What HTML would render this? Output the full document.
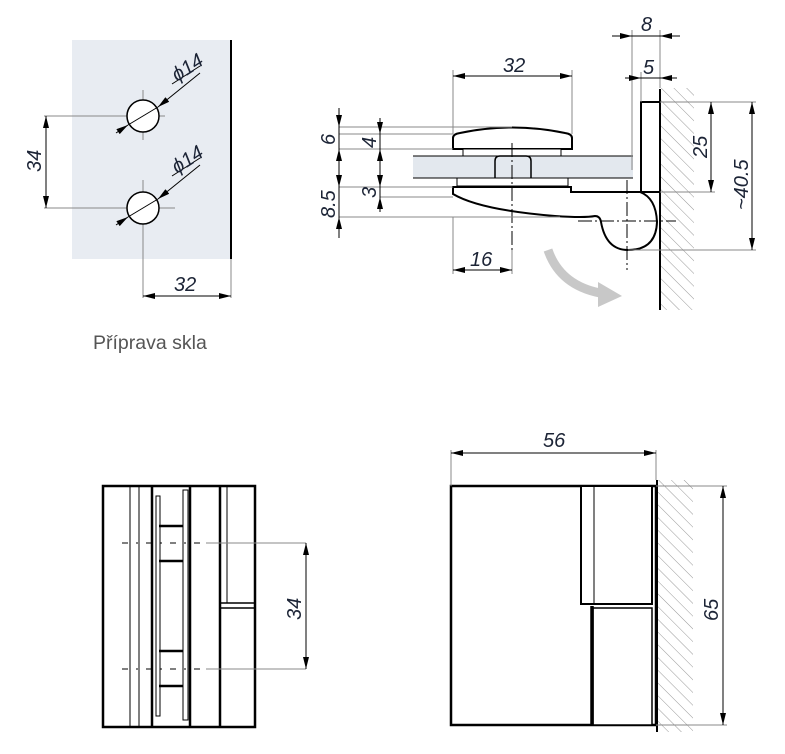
<!DOCTYPE html>
<html><head><meta charset="utf-8"><style>
html,body{margin:0;padding:0;background:#fff}
svg{display:block}
.t{font-family:"Liberation Sans",sans-serif;font-style:italic;font-size:20px;fill:#1c2436}
</style></head><body>
<svg width="785" height="754" viewBox="0 0 785 754" xmlns="http://www.w3.org/2000/svg">
<defs>
<marker id="a" viewBox="0 0 12 6" refX="12" refY="3" markerWidth="12" markerHeight="6" orient="auto-start-reverse" markerUnits="userSpaceOnUse"><path d="M0,0 L12,3 L0,6 z" fill="#000"/></marker>
<pattern id="h" width="9" height="9" patternUnits="userSpaceOnUse" patternTransform="rotate(-45)"><line x1="0" y1="0" x2="0" y2="9" stroke="#999" stroke-width="1"/></pattern>
</defs>

<!-- Glass preparation -->
<rect x="72" y="40" width="159" height="219" fill="#e8ecf2"/>
<line x1="231" y1="40" x2="231" y2="259" stroke="#000" stroke-width="2"/>
<g stroke="#888" stroke-width="1" fill="none">
<line x1="44" y1="116" x2="165" y2="116"/><line x1="44" y1="208" x2="175" y2="208"/>
<line x1="143" y1="90" x2="143" y2="140"/><line x1="143" y1="180" x2="143" y2="298"/>
<line x1="231" y1="259" x2="231" y2="298"/>
</g>
<circle cx="143" cy="116" r="16" fill="#fff" stroke="#000" stroke-width="1.5"/>
<circle cx="143" cy="208" r="16" fill="#fff" stroke="#000" stroke-width="1.5"/>
<g stroke="#000" stroke-width="1" fill="none">
<line x1="116" y1="133" x2="128" y2="125" marker-end="url(#a)"/><line x1="128" y1="125" x2="158" y2="107"/>
<line x1="200" y1="73" x2="158" y2="107" marker-end="url(#a)"/><line x1="172" y1="84" x2="200" y2="66"/>
<line x1="116" y1="225" x2="128" y2="217" marker-end="url(#a)"/><line x1="128" y1="217" x2="158" y2="199"/>
<line x1="200" y1="165" x2="158" y2="199" marker-end="url(#a)"/><line x1="172" y1="176" x2="200" y2="158"/>
<line x1="46" y1="116" x2="46" y2="208" marker-start="url(#a)" marker-end="url(#a)"/>
<line x1="143" y1="296" x2="231" y2="296" marker-start="url(#a)" marker-end="url(#a)"/>
</g>
<text class="t" transform="translate(177,82) rotate(-33)">ϕ14</text>
<text class="t" transform="translate(177,174) rotate(-33)">ϕ14</text>
<text class="t" transform="translate(41,172) rotate(-90)">34</text>
<text class="t" x="174" y="291">32</text>
<text x="93" y="349" font-family="Liberation Sans,sans-serif" font-size="19.5" fill="#555">Příprava skla</text>

<!-- Side view top-right -->
<rect x="660" y="88" width="34" height="222" fill="url(#h)"/>
<line x1="660" y1="89" x2="660" y2="310" stroke="#000" stroke-width="2"/>
<rect x="413" y="156" width="220" height="22" fill="#e3e8ee"/>
<g stroke="#000" stroke-width="1" fill="none"><line x1="413" y1="156" x2="633" y2="156"/><line x1="413" y1="178" x2="633" y2="178"/></g>
<rect x="641" y="102" width="19" height="90" fill="#fff" stroke="#000" stroke-width="2"/>
<path d="M453,149 L453,138 Q453,134 460,133 Q512,122 565,133 Q572,134 572,138 L572,149 Z" fill="#fff" stroke="#000" stroke-width="2"/>
<rect x="463" y="149" width="98" height="7" fill="#fff" stroke="#000" stroke-width="1"/>
<path d="M495,178 L495,161 Q495,156 500,156 L526,156 Q531,156 531,161 L531,178" fill="#e3e8ee" stroke="#000" stroke-width="1.5"/>
<rect x="457" y="178" width="111" height="8" fill="#fff" stroke="#000" stroke-width="1"/>
<path d="M453,187 L453,194 Q480,210 555,216 Q585,218 595,216 Q600,216 601,222 Q606,250 628,250 Q656,250 657,222 Q656,198 640,192 L571,192 L571,187 Z" fill="#fff" stroke="#000" stroke-width="2"/>
<g stroke="#000" stroke-width="1" stroke-dasharray="14,3,2,3" fill="none">
<line x1="512" y1="143" x2="512" y2="270"/><line x1="627" y1="180" x2="627" y2="270"/><line x1="578" y1="221" x2="676" y2="221"/>
</g>
<g stroke="#888" stroke-width="1" fill="none">
<line x1="453" y1="70" x2="453" y2="134"/><line x1="572" y1="70" x2="572" y2="134"/>
<line x1="632" y1="30" x2="632" y2="170"/><line x1="660" y1="30" x2="660" y2="88"/><line x1="641" y1="72" x2="641" y2="102"/>
<line x1="339" y1="127" x2="512" y2="127"/><line x1="339" y1="134" x2="453" y2="134"/><line x1="339" y1="149" x2="453" y2="149"/>
<line x1="339" y1="187" x2="453" y2="187"/><line x1="380" y1="197" x2="453" y2="197"/><line x1="339" y1="217" x2="560" y2="217"/>
<line x1="660" y1="102" x2="756" y2="102"/><line x1="660" y1="192" x2="715" y2="192"/><line x1="628" y1="250" x2="756" y2="250"/>
<line x1="453" y1="217" x2="453" y2="274"/><line x1="512" y1="250" x2="512" y2="274"/>
</g>
<g stroke="#000" stroke-width="1" fill="none">
<line x1="453" y1="76" x2="572" y2="76" marker-start="url(#a)" marker-end="url(#a)"/>
<line x1="612" y1="36" x2="632" y2="36" marker-end="url(#a)"/><line x1="680" y1="36" x2="660" y2="36" marker-end="url(#a)"/><line x1="632" y1="36" x2="660" y2="36"/>
<line x1="625" y1="78" x2="641" y2="78" marker-end="url(#a)"/><line x1="677" y1="78" x2="660" y2="78" marker-end="url(#a)"/><line x1="641" y1="78" x2="660" y2="78"/>
<line x1="339" y1="108" x2="339" y2="127" marker-end="url(#a)"/><line x1="339" y1="127" x2="339" y2="149"/>
<line x1="339" y1="168" x2="339" y2="149" marker-end="url(#a)"/><line x1="339" y1="168" x2="339" y2="187" marker-end="url(#a)"/>
<line x1="339" y1="187" x2="339" y2="217"/><line x1="339" y1="238" x2="339" y2="217" marker-end="url(#a)"/>
<line x1="380" y1="118" x2="380" y2="134" marker-end="url(#a)"/><line x1="380" y1="134" x2="380" y2="149"/>
<line x1="380" y1="168" x2="380" y2="149" marker-end="url(#a)"/><line x1="380" y1="168" x2="380" y2="187" marker-end="url(#a)"/>
<line x1="380" y1="187" x2="380" y2="197"/><line x1="380" y1="212" x2="380" y2="197" marker-end="url(#a)"/>
<line x1="711" y1="102" x2="711" y2="192" marker-start="url(#a)" marker-end="url(#a)"/>
<line x1="752" y1="102" x2="752" y2="250" marker-start="url(#a)" marker-end="url(#a)"/>
<line x1="453" y1="270" x2="512" y2="270" marker-start="url(#a)" marker-end="url(#a)"/>
</g>
<path d="M548,250 Q560,285 600,293" stroke="#c8c8c8" stroke-width="9" fill="none"/>
<path d="M598,282 L622,296 L598,307 z" fill="#c8c8c8"/>
<text class="t" x="503" y="72">32</text>
<text class="t" x="641" y="31">8</text>
<text class="t" x="643" y="74">5</text>
<text class="t" transform="translate(335,145) rotate(-90)">6</text>
<text class="t" transform="translate(335,218) rotate(-90)">8.5</text>
<text class="t" transform="translate(376,148) rotate(-90)">4</text>
<text class="t" transform="translate(376,198) rotate(-90)">3</text>
<text class="t" transform="translate(707,158) rotate(-90)">25</text>
<text class="t" transform="translate(748,210) rotate(-90)">~40.5</text>
<text class="t" x="470" y="266">16</text>

<!-- Front view bottom-left -->
<rect x="103" y="486" width="152" height="241" fill="#fff" stroke="#000" stroke-width="2.5"/>
<g stroke="#000" fill="none">
<line x1="130" y1="486" x2="130" y2="727" stroke-width="1"/><line x1="139" y1="486" x2="139" y2="727" stroke-width="1"/>
<line x1="152" y1="486" x2="152" y2="727" stroke-width="2.5"/><line x1="190" y1="486" x2="190" y2="727" stroke-width="2.5"/>
<line x1="220" y1="486" x2="220" y2="727" stroke-width="2.5"/><line x1="227" y1="486" x2="227" y2="603" stroke-width="1"/>
<rect x="156" y="496" width="4" height="220" stroke-width="1"/><rect x="183" y="490" width="5" height="230" stroke-width="1"/>
<line x1="220" y1="603" x2="255" y2="603" stroke-width="1.5"/><line x1="220" y1="608" x2="255" y2="608" stroke-width="1.5"/>
<g stroke-width="2.5"><line x1="159" y1="526" x2="183" y2="526"/><line x1="159" y1="561" x2="183" y2="561"/><line x1="159" y1="651" x2="183" y2="651"/><line x1="159" y1="686" x2="183" y2="686"/></g>
<g stroke-width="1" stroke-dasharray="6,8,2,8"><line x1="122" y1="543" x2="206" y2="543"/><line x1="122" y1="669" x2="206" y2="669"/></g>
</g>
<g stroke="#888" stroke-width="1"><line x1="206" y1="543" x2="306" y2="543"/><line x1="206" y1="669" x2="306" y2="669"/></g>
<line x1="306" y1="543" x2="306" y2="669" stroke="#000" stroke-width="1" marker-start="url(#a)" marker-end="url(#a)"/>
<text class="t" transform="translate(301,620) rotate(-90)">34</text>

<!-- Front view bottom-right -->
<rect x="657" y="480" width="36" height="252" fill="url(#h)"/>
<rect x="451" y="486" width="205" height="239" fill="#fff" stroke="#000" stroke-width="2.5"/>
<rect x="581" y="486" width="71" height="118" fill="#fff" stroke="#000" stroke-width="2"/>
<line x1="594" y1="486" x2="594" y2="604" stroke="#000" stroke-width="1"/>
<rect x="593" y="608" width="59" height="117" fill="#fff" stroke="#000" stroke-width="1.5"/>
<line x1="592" y1="606" x2="592" y2="725" stroke="#000" stroke-width="3.5"/>
<line x1="657" y1="480" x2="657" y2="732" stroke="#000" stroke-width="2"/>
<g stroke="#888" stroke-width="1"><line x1="451" y1="450" x2="451" y2="486"/><line x1="656" y1="450" x2="656" y2="480"/><line x1="656" y1="486" x2="727" y2="486"/><line x1="656" y1="725" x2="727" y2="725"/></g>
<line x1="451" y1="453" x2="656" y2="453" stroke="#000" stroke-width="1" marker-start="url(#a)" marker-end="url(#a)"/>
<line x1="723" y1="486" x2="723" y2="725" stroke="#000" stroke-width="1" marker-start="url(#a)" marker-end="url(#a)"/>
<text class="t" x="543" y="447">56</text>
<text class="t" transform="translate(718,621) rotate(-90)">65</text>
</svg>
</body></html>
